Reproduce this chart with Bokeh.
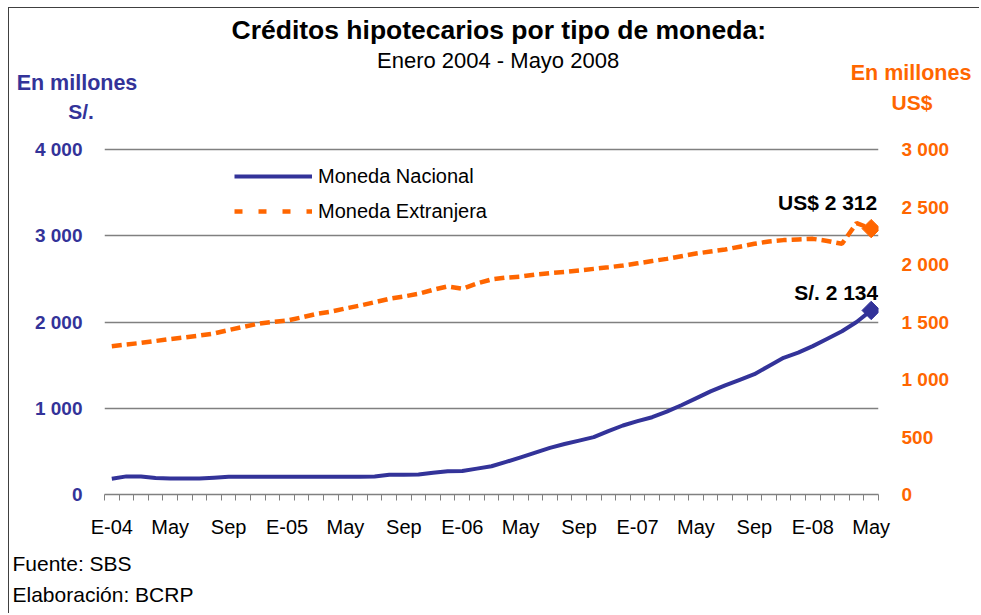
from bokeh.plotting import figure
from bokeh.models import (Range1d, LinearAxis, FixedTicker, Label, Legend, LegendItem,
                          ColumnDataSource, Title)
from bokeh.embed import file_html
from bokeh.resources import INLINE
import numpy as np

# ---------------- data ----------------
x_tick_labels = ["E-04", "May", "Sep", "E-05", "May", "Sep", "E-06", "May", "Sep",
                 "E-07", "May", "Sep", "E-08", "May"]

# Moneda Nacional, millones de S/. (Ene-2004 ... May-2008)
moneda_nacional = [183, 210, 208, 190, 185, 185, 186, 195, 205, 205,
                   205, 205, 205, 205, 205, 205, 205, 205, 208, 228,
                   230, 232, 252, 270, 272, 300, 328, 378, 430, 485,
                   540, 585, 625, 665, 735, 800, 850, 896, 960, 1035,
                   1115, 1195, 1265, 1330, 1395, 1490, 1585, 1645, 1720, 1805,
                   1893, 2000, 2134]

# Moneda Extranjera, millones de US$
moneda_extranjera = [1290, 1305, 1318, 1335, 1352, 1366, 1382, 1400, 1430, 1458,
                     1484, 1500, 1513, 1540, 1570, 1590, 1618, 1643, 1672, 1702,
                     1722, 1745, 1780, 1809, 1789, 1835, 1870, 1886, 1895, 1912,
                     1925, 1935, 1948, 1962, 1976, 1991, 2010, 2030, 2049, 2072,
                     2095, 2113, 2130, 2155, 2180, 2200, 2212, 2218, 2223, 2205,
                     2180, 2360, 2312]

left_ticks = [0, 1000, 2000, 3000, 4000]
left_tick_labels = ["0", "1 000", "2 000", "3 000", "4 000"]
right_ticks = [0, 500, 1000, 1500, 2000, 2500, 3000]
right_tick_labels = ["0", "500", "1 000", "1 500", "2 000", "2 500", "3 000"]

series_names = ["Moneda Nacional", "Moneda Extranjera"]

# ---------------- style ----------------
BLUE = "#333399"
ORANGE = "#FF6600"
GRID = "#808080"
FONT = "Liberation Sans"

OX, OY = 9.5, 8.5          # canvas origin on the page
W, H = 971, 606
# frame in canvas pixels; the 4000 / 3000 gridline sits at canvas y = Y4000
FL, FR, FT, FB = 95, 869, 102, 486
Y4000 = 141
n = len(moneda_nacional)
idx = list(range(n))

ext = (FB - FT) / (FB - Y4000)   # extra room above the top gridline
p = figure(width=W, height=H, x_range=Range1d(-0.5, n - 0.5),
           y_range=Range1d(0, left_ticks[-1] * ext),
           output_backend="svg", toolbar_location=None,
           min_border_left=FL, min_border_right=W - FR,
           min_border_top=FT, min_border_bottom=H - FB)
p.title.visible = False
p.outline_line_color = None
p.background_fill_color = "white"
p.border_fill_color = "white"
p.styles = {"margin-left": "8px", "margin-top": "7px",
            "border-left": "1.5px solid #404040", "border-top": "1.5px solid #404040"}

p.extra_y_ranges = {"usd": Range1d(0, right_ticks[-1] * ext)}

# x axis
xa = p.xaxis[0]
xa.ticker = FixedTicker(ticks=list(range(0, n, 4)),
                        minor_ticks=[i - 0.5 for i in range(n + 1)])
xa.major_label_overrides = {t: l for t, l in zip(range(0, n, 4), x_tick_labels)}
xa.axis_line_color = GRID
xa.axis_line_width = 1.5
xa.major_tick_in = 0
xa.major_tick_out = 0
xa.major_tick_line_color = None
xa.minor_tick_in = 0
xa.minor_tick_out = 6
xa.minor_tick_line_color = GRID
xa.minor_tick_line_width = 1
xa.major_label_standoff = 15
xa.major_label_text_font = FONT
xa.major_label_text_font_size = "20px"
xa.major_label_text_color = "black"

# left axis
ya = p.yaxis[0]
ya.ticker = FixedTicker(ticks=left_ticks)
ya.major_label_overrides = {t: l for t, l in zip(left_ticks, left_tick_labels)}
ya.axis_line_color = None
ya.major_tick_line_color = None
ya.minor_tick_line_color = None
ya.major_label_standoff = 16
ya.major_label_text_font = FONT
ya.major_label_text_font_size = "19px"
ya.major_label_text_font_style = "bold"
ya.major_label_text_color = BLUE

# right axis
ra = LinearAxis(y_range_name="usd", ticker=FixedTicker(ticks=right_ticks))
ra.major_label_overrides = {t: l for t, l in zip(right_ticks, right_tick_labels)}
ra.axis_line_color = None
ra.major_tick_line_color = None
ra.minor_tick_line_color = None
ra.major_label_standoff = 17
ra.major_label_text_font = FONT
ra.major_label_text_font_size = "19px"
ra.major_label_text_font_style = "bold"
ra.major_label_text_color = ORANGE
p.add_layout(ra, "right")

p.xgrid.visible = False
p.ygrid.ticker = FixedTicker(ticks=left_ticks)
p.ygrid.grid_line_color = GRID
p.ygrid.grid_line_width = 1.5

# ---------------- series ----------------
src = ColumnDataSource(dict(i=idx, mn=moneda_nacional, me=moneda_extranjera))
r_me = p.line("i", "me", source=src, y_range_name="usd", line_color=ORANGE,
              line_width=4.5, line_dash="10 5")
r_mn = p.line("i", "mn", source=src, line_color=BLUE, line_width=4, line_join="round")
p.scatter(x=[idx[-1]], y=[moneda_nacional[-1]], marker="square", angle=np.pi / 4,
          size=13, color=BLUE)
p.scatter(x=[idx[-1]], y=[moneda_extranjera[-1]], marker="square", angle=np.pi / 4,
          size=13, color=ORANGE, y_range_name="usd")

# legend swatch for the dashed series (same style, sparser dashes as in the original key)
r_leg_me = p.line(x=np.array([0.0]), y=np.array([np.nan]), line_color=ORANGE,
                  line_width=4.5, line_dash="8 16")

leg = Legend(items=[LegendItem(label=series_names[0], renderers=[r_mn]),
                    LegendItem(label=series_names[1], renderers=[r_leg_me])],
             location=(130, 271), orientation="vertical",
             glyph_width=78, glyph_height=24, label_height=24, spacing=11,
             padding=0, margin=0, label_standoff=6,
             border_line_color=None, background_fill_alpha=0,
             label_text_font=FONT, label_text_font_size="20px",
             label_text_color="black")
p.add_layout(leg)

# ---------------- texts above the frame (stacked titles) ----------------
# (text, page centre x, page centre y, font px, colour, bold, approx text width px, align)
above_rows = [
    ("S/.", 81, 111.5, 21, BLUE, True, 25.7, "left"),
    ("US$", 912, 102, 21, ORANGE, True, 40.8, "right"),
    ("En millones", 77, 83, 21.5, BLUE, True, 120.7, "left"),
    ("En millones", 911, 73, 21.5, ORANGE, True, 120.7, "right"),
    ("Enero 2004 - Mayo 2008", 498, 61, 22, "black", False, 242.0, "left"),
    ("Créditos hipotecarios por tipo de moneda:", 498, 30, 26.5, "black", True, 533.0, "left"),
]

B = FT
for txt, cx, cy, fs, col, bold, wid, al in above_rows:
    c = cy - OY
    th = 1.117 * fs
    s = 2 * (B - c) - th
    h = 2 + th + s
    if al == "left":
        off = (cx - wid / 2 - OX) - FL
    else:
        off = FR - (cx + wid / 2 - OX)
    t = Title(text=txt, align=al, offset=off, standoff=s, text_font=FONT,
              text_font_size=f"{fs}px", text_font_style="bold" if bold else "normal",
              text_color=col)
    p.add_layout(t, "above")
    B = B - h

# ---------------- footnotes ----------------
f1 = Title(text="Fuente: SBS", align="left", text_font=FONT, text_font_size="21px",
           text_font_style="normal", text_color="black", standoff=18, offset=-92)
p.add_layout(f1, "below")
f2 = Title(text="Elaboración: BCRP", align="left", text_font=FONT, text_font_size="21px",
           text_font_style="normal", text_color="black", standoff=-5, offset=-92)
p.add_layout(f2, "below")


def fmt(v):
    return f"{v:,}".replace(",", " ")


p.add_layout(Label(x=idx[-1], y=moneda_nacional[-1], text="S/. " + fmt(moneda_nacional[-1]),
                   x_offset=7, y_offset=18, text_align="right", text_baseline="middle",
                   text_font=FONT, text_font_size="21px", text_font_style="bold",
                   text_color="black"))
p.add_layout(Label(x=idx[-1], y=moneda_extranjera[-1], y_range_name="usd",
                   text="US$ " + fmt(moneda_extranjera[-1]),
                   x_offset=6, y_offset=26, text_align="right", text_baseline="middle",
                   text_font=FONT, text_font_size="21px", text_font_style="bold",
                   text_color="black"))

open("out.html", "w").write(file_html(p, INLINE))
